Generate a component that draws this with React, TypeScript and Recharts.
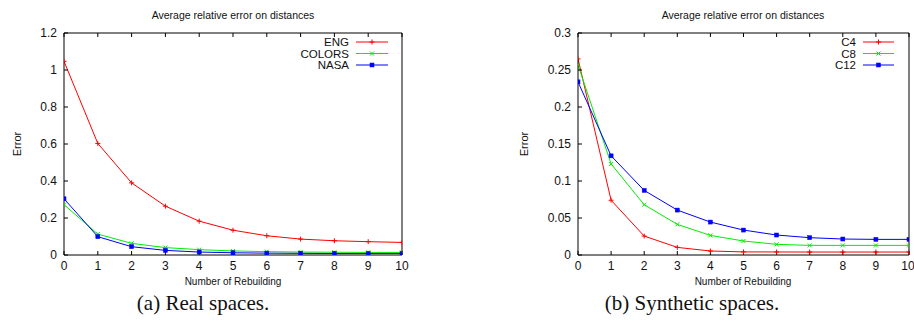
import React from 'react'
import { LineChart, Line, XAxis, YAxis } from 'recharts'

// number of rebuilding steps (x axis)
const rebuilds = [0, 1, 2, 3, 4, 5, 6, 7, 8, 9, 10]

// (a) real spaces
const eng = [1.047, 0.603, 0.39, 0.264, 0.183, 0.134, 0.104, 0.086, 0.077, 0.072, 0.068]
const colors = [0.272, 0.113, 0.063, 0.04, 0.029, 0.022, 0.018, 0.016, 0.015, 0.014, 0.014]
const nasa = [0.304, 0.099, 0.045, 0.025, 0.016, 0.012, 0.01, 0.009, 0.008, 0.008, 0.008]
const realTicks = [0, 0.2, 0.4, 0.6, 0.8, 1, 1.2]

// (b) synthetic spaces
const c4 = [0.265, 0.074, 0.0256, 0.0103, 0.0054, 0.0042, 0.0041, 0.004, 0.004, 0.004, 0.004]
const c8 = [0.257, 0.123, 0.068, 0.0414, 0.0265, 0.0189, 0.0144, 0.013, 0.013, 0.013, 0.013]
const c12 = [0.234, 0.134, 0.0873, 0.0607, 0.0445, 0.0337, 0.027, 0.0234, 0.0216, 0.0211, 0.0211]
const synthTicks = [0, 0.05, 0.1, 0.15, 0.2, 0.25, 0.3]

const RED = '#ff0000'
const GREEN = '#00ee00'
const BLUE = '#0000ff'
const SANS = "'Liberation Sans', Arial, sans-serif"
const SERIF = "'Liberation Serif', 'Times New Roman', serif"

const realData = rebuilds.map((r, i) => ({ r, eng: eng[i], colors: colors[i], nasa: nasa[i] }))
const synthData = rebuilds.map((r, i) => ({ r, c4: c4[i], c8: c8[i], c12: c12[i] }))

type Mark = 'plus' | 'cross' | 'square'

function markerShape(kind: Mark, color: string, cx: number, cy: number, key?: any) {
    if (kind === 'plus') {
        return (
            <g key={key}>
                <line x1={cx - 2.5} x2={cx + 2.5} y1={cy} y2={cy} stroke={color} strokeWidth={1} />
                <line x1={cx} x2={cx} y1={cy - 2.5} y2={cy + 2.5} stroke={color} strokeWidth={1} />
            </g>
        )
    }
    if (kind === 'cross') {
        return (
            <g key={key}>
                <line x1={cx - 2} x2={cx + 2} y1={cy - 2} y2={cy + 2} stroke={color} strokeWidth={1} />
                <line x1={cx - 2} x2={cx + 2} y1={cy + 2} y2={cy - 2} stroke={color} strokeWidth={1} />
            </g>
        )
    }
    return <rect key={key} x={cx - 2} y={cy - 2} width={4} height={4} fill={color} stroke={color} strokeWidth={0.5} />
}

const dotFor = (kind: Mark, color: string) => (p: any) => markerShape(kind, color, p.cx, p.cy, p.index)

function Txt({ x, y, size, family, rotate, children }: any) {
    return (
        <div style={{
            position: 'absolute', left: x, top: y, fontSize: size, fontFamily: family, color: '#111',
            whiteSpace: 'nowrap', lineHeight: 1,
            transform: `translate(-50%, -50%)${rotate ? ` rotate(${rotate}deg)` : ''}`,
        }}>
            {children}
        </div>
    )
}

interface Series { key: string; name: string; color: string; mark: Mark }

function LegendBox({ items, textRight, lineStart, lineEnd }: { items: Series[]; textRight: number; lineStart: number; lineEnd: number }) {
    return (
        <svg width={lineEnd + 4} height={40} style={{ position: 'absolute', left: 0, top: 35, overflow: 'visible' }}>
            {items.map((s, i) => {
                const y = 7 + i * 11.5
                return (
                    <g key={s.key}>
                        <text x={textRight} y={y} dy="0.35em" textAnchor="end" fontSize={11.5} fontFamily={SANS} fill="#111">{s.name}</text>
                        <line x1={lineStart} x2={lineEnd} y1={y} y2={y} stroke={s.color} strokeWidth={1} />
                        {markerShape(s.mark, s.color, (lineStart + lineEnd) / 2, y)}
                    </g>
                )
            })}
        </svg>
    )
}

const tickStyle = { fill: '#111', fontSize: 12, fontFamily: SANS }
const axisLine = { stroke: '#000', strokeWidth: 1 }

function Panel({ data, series, ticks, yMax, yWidth, marginRight, rightWidth }: any) {
    return (
        <LineChart width={457} height={290} data={data} margin={{ top: 0, right: marginRight, left: 0, bottom: 0 }}>
            <XAxis dataKey="r" type="number" domain={[0, 10]} ticks={rebuilds} allowDataOverflow
                height={35} tickSize={-4} tickMargin={10} tick={tickStyle} axisLine={axisLine} tickLine={axisLine} />
            <XAxis xAxisId="top" orientation="top" dataKey="r" type="number" domain={[0, 10]} ticks={rebuilds}
                height={33} tickSize={-4} tickFormatter={() => ''} axisLine={axisLine} tickLine={axisLine} />
            <YAxis type="number" domain={[0, yMax]} ticks={ticks} allowDataOverflow width={yWidth}
                tickSize={-4} tickMargin={11} tick={tickStyle} axisLine={axisLine} tickLine={axisLine} />
            <YAxis yAxisId="right" orientation="right" type="number" domain={[0, yMax]} ticks={ticks} width={rightWidth}
                tickSize={-4} tickFormatter={() => ''} axisLine={axisLine} tickLine={axisLine} />
            {series.map((s: Series) => (
                <Line key={s.key} dataKey={s.key} name={s.name} stroke={s.color} strokeWidth={1}
                    dot={dotFor(s.mark, s.color)} activeDot={false} isAnimationActive={false} />
            ))}
        </LineChart>
    )
}

const realSeries: Series[] = [
    { key: 'eng', name: 'ENG', color: RED, mark: 'plus' },
    { key: 'colors', name: 'COLORS', color: GREEN, mark: 'cross' },
    { key: 'nasa', name: 'NASA', color: BLUE, mark: 'square' },
]
const synthSeries: Series[] = [
    { key: 'c4', name: 'C4', color: RED, mark: 'plus' },
    { key: 'c8', name: 'C8', color: GREEN, mark: 'cross' },
    { key: 'c12', name: 'C12', color: BLUE, mark: 'square' },
]

export default function App() {
    return (
        <div style={{ position: 'absolute', left: 0, top: 0, width: 914, height: 325, background: '#fff', overflow: 'hidden' }}>
            <div style={{ position: 'absolute', left: 0, top: 0 }}>
                <Panel data={realData} series={realSeries} ticks={realTicks} yMax={1.2} yWidth={64} marginRight={45} rightWidth={10} />
                <LegendBox items={realSeries} textRight={349} lineStart={356} lineEnd={388} />
            </div>
            <div style={{ position: 'absolute', left: 457, top: 0 }}>
                <Panel data={synthData} series={synthSeries} ticks={synthTicks} yMax={0.3} yWidth={121} marginRight={0} rightWidth={5} />
                <LegendBox items={synthSeries} textRight={399} lineStart={406} lineEnd={437} />
            </div>

            <Txt x={233} y={15} size={10.5} family={SANS}>Average relative error on distances</Txt>
            <Txt x={743} y={15} size={10.5} family={SANS}>Average relative error on distances</Txt>
            <Txt x={17} y={144} size={11} family={SANS} rotate={-90}>Error</Txt>
            <Txt x={524} y={144} size={11} family={SANS} rotate={-90}>Error</Txt>
            <Txt x={233} y={282} size={10} family={SANS}>Number of Rebuilding</Txt>
            <Txt x={743} y={282} size={10} family={SANS}>Number of Rebuilding</Txt>
            <Txt x={203} y={303} size={21} family={SERIF}>(a) Real spaces.</Txt>
            <Txt x={692} y={303} size={21} family={SERIF}>(b) Synthetic spaces.</Txt>
        </div>
    )
}
